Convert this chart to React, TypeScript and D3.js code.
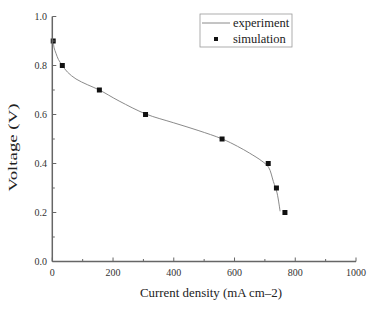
import React from "react";
import * as d3 from "d3";

const expCurrent = [3, 6, 12, 20, 33, 50, 78, 115, 155, 220, 308, 400, 480, 560, 610, 650, 690, 712, 728, 740, 750];
const expVoltage = [0.9, 0.872, 0.85, 0.825, 0.8, 0.773, 0.745, 0.722, 0.7, 0.655, 0.602, 0.566, 0.535, 0.5, 0.47, 0.442, 0.41, 0.385, 0.326, 0.28, 0.205];
const simCurrent = [3, 33, 155, 307, 559, 711, 738, 766];
const simVoltage = [0.9, 0.8, 0.7, 0.6, 0.5, 0.4, 0.3, 0.2];
const xTicks = [0, 200, 400, 600, 800, 1000];
const yTicks = [0.0, 0.2, 0.4, 0.6, 0.8, 1.0];
const xMinor = [100, 300, 500, 700, 900];
const yMinor = [0.1, 0.3, 0.5, 0.7, 0.9];

export default function App() {
  const W = 372, H = 310;
  const x = d3.scaleLinear().domain([0, 1000]).range([52.3, 356]);
  const y = d3.scaleLinear().domain([0, 1]).range([261.5, 16.5]);
  const line = d3.line<number>().x((_, i) => x(expCurrent[i])).y((d) => y(d)).curve(d3.curveCatmullRom.alpha(0.5));
  const font = "Liberation Serif, DejaVu Serif, serif";
  const axisColor = "#666";
  const ms = 5;
  const ts = { fontFamily: font };
  return (
    <svg width={W} height={H} style={{ position: "absolute", left: 0, top: 0, background: "#fff" }}>
      <path d={line(expVoltage) || ""} fill="none" stroke="#8a8a8a" strokeWidth={1} />
      {simCurrent.map((c, i) => (
        <rect key={i} x={x(c) - ms / 2} y={y(simVoltage[i]) - ms / 2} width={ms} height={ms} fill="#111" />
      ))}
      <line x1={x(0)} x2={x(1000)} y1={y(0)} y2={y(0)} stroke={axisColor} strokeWidth={1.5} />
      <line x1={x(0)} x2={x(0)} y1={y(0)} y2={y(1)} stroke={axisColor} strokeWidth={1.5} />
      {xTicks.map((t) => (
        <g key={"xt" + t}>
          <line x1={x(t)} x2={x(t)} y1={y(0)} y2={y(0) - 4} stroke={axisColor} strokeWidth={1} />
          <text x={x(t)} y={275.5} textAnchor="middle" fontSize={10} fill="#333" style={ts}>{t}</text>
        </g>
      ))}
      {xMinor.map((t) => (
        <line key={"xm" + t} x1={x(t)} x2={x(t)} y1={y(0)} y2={y(0) - 2.5} stroke={axisColor} strokeWidth={1} />
      ))}
      {yTicks.map((t) => (
        <g key={"yt" + t}>
          <line x1={x(0)} x2={x(0) + 4} y1={y(t)} y2={y(t)} stroke={axisColor} strokeWidth={1} />
          <text x={47} y={y(t) + 3.5} textAnchor="end" fontSize={10} fill="#333" style={ts}>{t.toFixed(1)}</text>
        </g>
      ))}
      {yMinor.map((t) => (
        <line key={"ym" + t} x1={x(0)} x2={x(0) + 2.5} y1={y(t)} y2={y(t)} stroke={axisColor} strokeWidth={1} />
      ))}
      <text x={211} y={297} textAnchor="middle" fontSize={13} fill="#222" style={ts} textLength={142} lengthAdjust="spacingAndGlyphs">Current density (mA cm–2)</text>
      <text transform="translate(17,147.5) rotate(-90)" textAnchor="middle" fontSize={13} fill="#222" style={ts} textLength={88} lengthAdjust="spacingAndGlyphs">Voltage (V)</text>
      <rect x={200} y={14} width={92} height={33} fill="#fff" stroke="#999" strokeWidth={0.8} />
      <line x1={202} x2={230} y1={23} y2={23} stroke="#8a8a8a" strokeWidth={1} />
      <text x={233} y={27} fontSize={12.5} fill="#222" style={ts}>experiment</text>
      <rect x={216 - 2} y={39 - 2} width={4} height={4} fill="#111" />
      <text x={233} y={43} fontSize={12.5} fill="#222" style={ts}>simulation</text>
    </svg>
  );
}
